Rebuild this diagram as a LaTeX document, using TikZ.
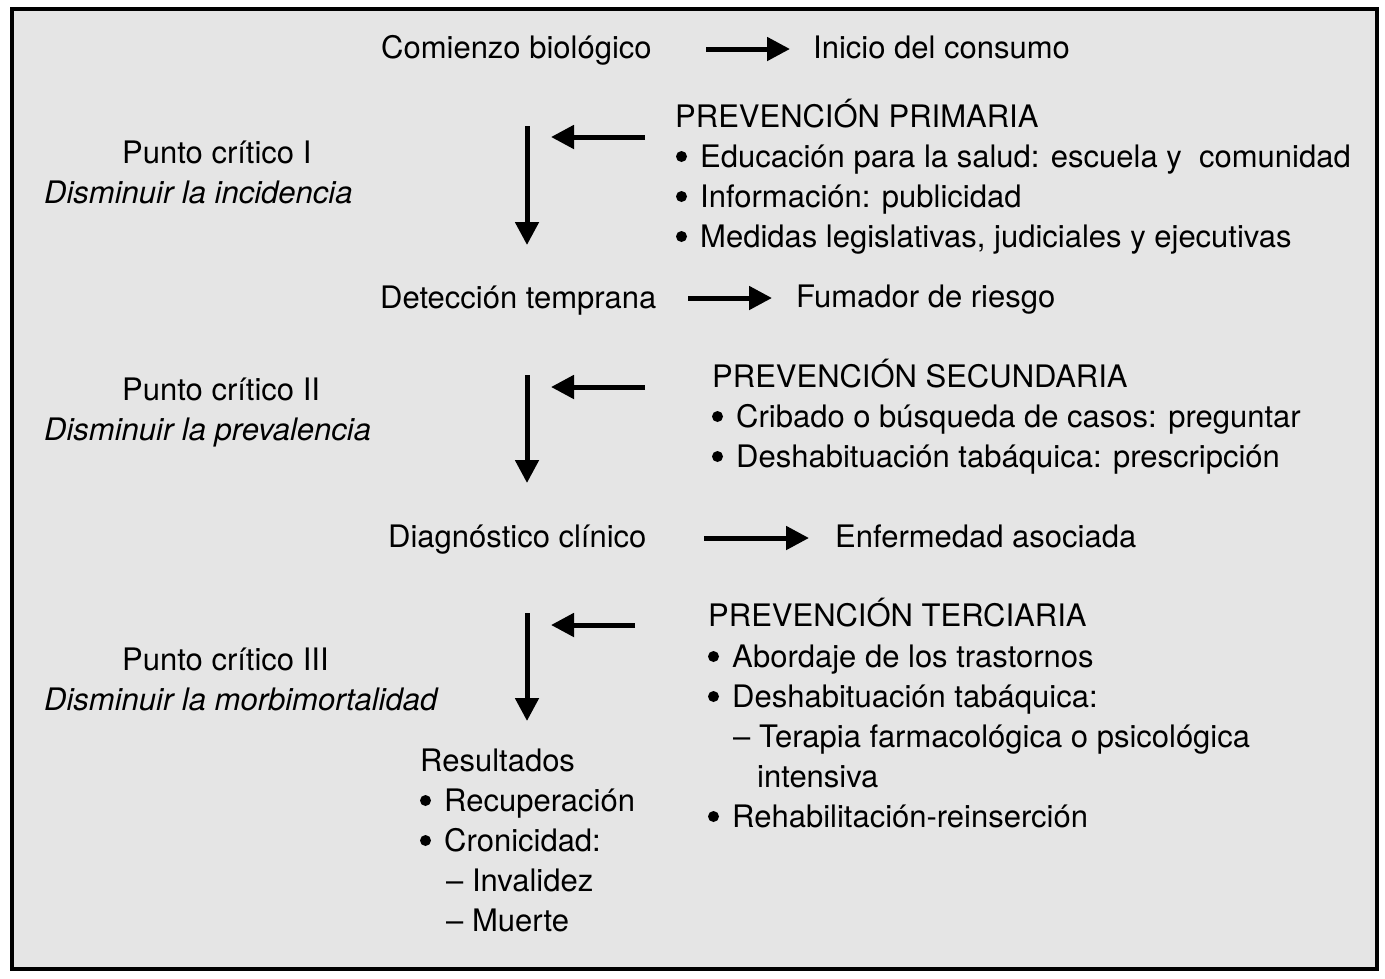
\documentclass[tikz,border=0pt]{standalone}
\usepackage{fontspec}
\setmainfont{TeX Gyre Heros}
\usetikzlibrary{arrows.meta}
\tikzset{
  txt/.style={anchor=base west, inner sep=0pt, font=\fontsize{31}{40}\selectfont},
  itx/.style={txt, font=\fontsize{31}{40}\selectfont\itshape},
  arr/.style={line width=5pt, -{Triangle[width=23pt,length=23pt]}},
  frame/.style={line width=3.5pt, fill=black!10},
  bulletdot/.style={fill=black}
}
\newcommand{\bulletfor}[1]{\fill[bulletdot] ([shift={(-18.5,-10.5)}]#1.base west) circle (5.5);}
\begin{document}
\begin{tikzpicture}[x=1pt,y=-1pt]
\useasboundingbox (0,0) rectangle (1385,978);
\draw[frame] (12,9) rectangle (1377,969);

% level 1
\node[txt] (comienzo) at (381,58) {Comienzo biológico};
\node[txt] (inicio) at (813,58) {Inicio del consumo};
\coordinate (a1s) at (706,49); \coordinate (a1e) at (790,49);
\draw[arr] (a1s) -- (a1e);

\node[txt] (pp) at (675,127) {PREVENCIÓN PRIMARIA};
\node[txt] (pp1) at (700,167) {Educación para la salud: escuela y~ comunidad};
\node[txt] (pp2) at (700,207) {Información: publicidad};
\node[txt] (pp3) at (700,247) {Medidas legislativas, judiciales y ejecutivas};
\bulletfor{pp1}\bulletfor{pp2}\bulletfor{pp3}

\node[txt] (pc1) at (122,163) {Punto crítico I};
\node[itx] (dm1) at (44,203) {Disminuir la incidencia};

\coordinate (v1s) at (527,126); \coordinate (v1e) at (527,245);
\draw[arr] (v1s) -- (v1e);
\coordinate (h1s) at (645,137); \coordinate (h1e) at (551,137);
\draw[arr] (h1s) -- (h1e);

% level 2
\node[txt] (deteccion) at (380,308) {Detección temprana};
\node[txt] (fumador) at (796,307) {Fumador de riesgo};
\coordinate (a2s) at (688,298); \coordinate (a2e) at (772,298);
\draw[arr] (a2s) -- (a2e);

\node[txt] (pc2) at (122,400) {Punto crítico II};
\node[itx] (dm2) at (44,440) {Disminuir la prevalencia};

\coordinate (v2s) at (527,375); \coordinate (v2e) at (527,483);
\draw[arr] (v2s) -- (v2e);
\coordinate (h2s) at (645,387); \coordinate (h2e) at (551,387);
\draw[arr] (h2s) -- (h2e);

\node[txt] (ps) at (712,387) {PREVENCIÓN SECUNDARIA};
\node[txt] (ps1) at (736,427) {Cribado o búsqueda de casos: preguntar};
\node[txt] (ps2) at (736,467) {Deshabituación tabáquica: prescripción};
\bulletfor{ps1}\bulletfor{ps2}

% level 3
\node[txt] (diag) at (388,547) {Diagnóstico clínico};
\node[txt] (enf) at (835,547) {Enfermedad asociada};
\coordinate (a3s) at (704,538); \coordinate (a3e) at (809,538);
\draw[arr] (a3s) -- (a3e);

\node[txt] (pc3) at (122,670) {Punto crítico III};
\node[itx] (dm3) at (44,710) {Disminuir la morbimortalidad};

\coordinate (v3s) at (527,613); \coordinate (v3e) at (527,721);
\draw[arr] (v3s) -- (v3e);
\coordinate (h3s) at (635,625); \coordinate (h3e) at (551,625);
\draw[arr] (h3s) -- (h3e);

\node[txt] (pt) at (708,626) {PREVENCIÓN TERCIARIA};
\node[txt] (pt1) at (732,667) {Abordaje de los trastornos};
\node[txt] (pt2) at (732,707) {Deshabituación tabáquica:};
\node[txt] (pt3) at (733,747) {– Terapia farmacológica o psicológica};
\node[txt] (pt4) at (757,787) {intensiva};
\node[txt] (pt5) at (732,827) {Rehabilitación-reinserción};
\bulletfor{pt1}\bulletfor{pt2}\bulletfor{pt5}

% results
\node[txt] (res) at (420,771) {Resultados};
\node[txt] (res1) at (444,811) {Recuperación};
\node[txt] (res2) at (444,851) {Cronicidad:};
\node[txt] (res3) at (446,891) {– Invalidez};
\node[txt] (res4) at (446,931) {– Muerte};
\bulletfor{res1}\bulletfor{res2}
\end{tikzpicture}
\end{document}
